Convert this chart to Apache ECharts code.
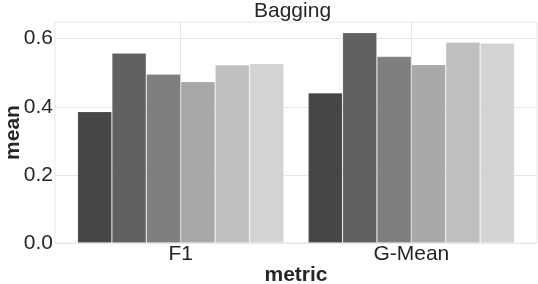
<!DOCTYPE html>
<html>
<head>
<meta charset="utf-8">
<script src="https://cdn.jsdelivr.net/npm/echarts@6/dist/echarts.min.js"></script>
<style>html,body{margin:0;padding:0;background:#fff}#c{width:538px;height:284px}</style>
</head>
<body>
<div id="c"></div>
<script>
var categories = ['F1', 'G-Mean'];
var s1 = [0.386, 0.441];
var s2 = [0.558, 0.618];
var s3 = [0.496, 0.548];
var s4 = [0.474, 0.524];
var s5 = [0.523, 0.590];
var s6 = [0.527, 0.587];
var yTicks = [0, 0.2, 0.4, 0.6];
var seriesValues = [s1, s2, s3, s4, s5, s6];
var colors = ['#464646', '#606060', '#7f7f7f', '#a8a8a8', '#c0c0c0', '#d4d4d4'];

var chart = echarts.init(document.getElementById('c'), null, {renderer: 'canvas'});
var font = '"Liberation Sans", Arial, sans-serif';
var series = seriesValues.map(function (vals, k) {
  return {
    type: 'bar',
    name: 's' + (k + 1),
    barWidth: 34.4,
    barGap: '0%',
    itemStyle: {color: colors[k], borderColor: 'rgba(255,255,255,0.2)', borderWidth: 0.8},
    data: vals.map(function (v, i) { return [i, v]; })
  };
});
chart.setOption({
  animation: false,
  backgroundColor: '#fff',
  title: {
    text: 'Bagging', left: 254, top: 1, padding: 0,
    textStyle: {fontFamily: font, fontSize: 21, fontWeight: 'normal', color: '#262626'}
  },
  grid: {left: 55, top: 22, width: 482, height: 221, show: true, borderColor: '#e6e6e6', borderWidth: 1,
    containLabel: false, outerBoundsMode: 'none'},
  xAxis: {
    type: 'value', min: -0.545, max: 1.545,
    name: 'metric', nameLocation: 'middle', nameGap: 22, nameMoveOverlap: false,
    nameTextStyle: {fontFamily: font, fontSize: 21, fontWeight: 'bold', color: '#262626'},
    axisLine: {show: false},
    axisTick: {show: false, customValues: [0, 1]},
    axisLabel: {customValues: [0, 1], margin: 1, fontFamily: font, fontSize: 21, color: '#262626',
      formatter: function (v) { return categories[Math.round(v)]; }},
    splitLine: {show: true, lineStyle: {color: '#e6e6e6', width: 1}}
  },
  yAxis: {
    type: 'value', min: 0, max: 0.649,
    name: 'mean', nameLocation: 'middle', nameGap: 31, nameMoveOverlap: false,
    nameTextStyle: {fontFamily: font, fontSize: 21, fontWeight: 'bold', color: '#262626'},
    axisLine: {show: false},
    axisTick: {show: false, customValues: yTicks},
    axisLabel: {customValues: yTicks, margin: 2, fontFamily: font, fontSize: 21, color: '#262626',
      formatter: function (v) { return v.toFixed(1); }},
    splitLine: {show: true, lineStyle: {color: '#e6e6e6', width: 1}}
  },
  series: series
});
</script>
</body>
</html>
